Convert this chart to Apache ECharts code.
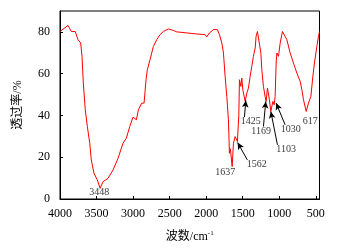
<!DOCTYPE html>
<html>
<head>
<meta charset="utf-8">
<script src="https://cdn.jsdelivr.net/npm/echarts@6/dist/echarts.min.js"></script>
<style>
    html, body {margin: 0; padding: 0; background: #fff;}
    #chart {width: 337px; height: 250px;}
</style>
</head>
<body>
<div id="chart"></div>
<script>
// wavenumber (cm-1) and transmittance (%)
const wavenumber = [
    4000, 3890, 3845, 3791, 3754, 3717, 3699, 3681, 3654, 3626, 3593, 3572, 3535, 3489, 3452,
    3411, 3343, 3274, 3206, 3138, 3092, 3046, 3001, 2955, 2928, 2882, 2850, 2823, 2805, 2768,
    2723, 2676, 2631, 2586, 2517, 2449, 2402, 2265, 2129, 2015, 1992, 1956, 1901, 1847, 1819,
    1786, 1764, 1741, 1718, 1696, 1682, 1669, 1645, 1627, 1604, 1581, 1573, 1554, 1545, 1526,
    1513, 1499, 1467, 1444, 1422, 1399, 1376, 1354, 1330, 1317, 1299, 1272, 1252, 1239, 1217,
    1194, 1180, 1162, 1148, 1135, 1116, 1088, 1070, 1057, 1043, 1033, 1011, 988, 957, 933,
    897, 851, 806, 760, 714, 691, 669, 632, 601, 568, 541, 519, 486, 464, 450,
]
const transmittance = [
    80.2, 83.1, 80.2, 80.2, 76.3, 74.7, 68.3, 55.5, 42.7, 34.7, 26.7, 18.7, 12.3, 9.1, 5.1,
    8.3, 9.9, 13.9, 19.5, 26.7, 29.1, 34.7, 39.2, 37.9, 42.7, 45.9, 45.9, 57.1, 61.9, 66.7,
    73.0, 76.3, 78.7, 80.2, 81.4, 80.7, 80.0, 79.5, 79.0, 78.7, 77.6, 79.5, 81.1, 81.1, 78.7,
    74.7, 69.9, 58.7, 49.1, 37.9, 21.9, 24.0, 15.5, 26.7, 29.9, 29.1, 27.5, 40.0, 57.1, 53.9,
    57.9, 52.3, 46.7, 50.7, 53.1, 58.7, 63.5, 68.3, 72.3, 77.9, 80.2, 79.5, 69.9, 61.9, 53.9,
    49.1, 46.7, 53.1, 52.3, 47.5, 41.9, 46.7, 45.1, 49.1, 65.1, 69.9, 68.3, 74.7, 80.2, 80.2,
    76.3, 69.9, 65.1, 60.3, 56.3, 52.3, 47.5, 41.9, 45.9, 49.1, 58.7, 65.1, 73.0, 77.9, 80.2,
]

// peak labels: text, label anchor (x, y)
const peakNames = ['3448', '1637', '1562', '1425', '1169', '1103', '1030', '617']
const peakLabelX = [3462, 1741, 1307, 1390, 1248, 906, 842, 578]
const peakLabelY = [3.0, 12.8, 16.8, 37.1, 32.3, 23.8, 33.1, 37.4]

// arrows: from (x0, y0) to tip (x1, y1)
const arrowFromX = [1437, 1477, 1217, 1025, 920]
const arrowFromY = [18.7, 39.2, 34.7, 25.9, 35.5]
const arrowToX = [1570, 1458, 1185, 1116, 1043]
const arrowToY = [27.0, 47.2, 46.7, 41.9, 45.9]

const xTicks = [4000, 3500, 3000, 2500, 2000, 1500, 1000, 500]
const yTicks = [0, 20, 40, 60, 80]

const serif = "'Liberation Serif', 'Noto Sans CJK SC', serif"

const myChart = echarts.init(document.getElementById('chart'), null, {renderer: 'canvas'})
myChart.setOption({
    animation: false,
    backgroundColor: '#fff',
    grid: {
        show: true,
        left: 60,
        top: 11,
        right: 17.5,
        bottom: 51,
        borderColor: '#000',
        borderWidth: 1,
        backgroundColor: 'transparent',
    },
    xAxis: {
        type: 'value',
        inverse: true,
        min: 450,
        max: 4000,
        name: '{a|波数/cm}{b|-1}',
        nameLocation: 'middle',
        nameGap: 31,
        nameTextStyle: {
            rich: {
                a: {fontFamily: serif, fontSize: 12, color: '#000'},
                b: {fontFamily: serif, fontSize: 7, color: '#000', verticalAlign: 'top', padding: [0, 0, 6, 0]},
            },
        },
        axisLine: {onZero: false, lineStyle: {color: '#000', width: 1}},
        axisTick: {inside: true, length: 3, customValues: xTicks, lineStyle: {color: '#000'}},
        axisLabel: {
            customValues: xTicks,
            formatter: (v) => String(v),
            color: '#000',
            fontFamily: serif,
            fontSize: 12,
            margin: 9,
        },
        splitLine: {show: false},
    },
    yAxis: {
        type: 'value',
        min: 0,
        max: 90,
        name: '透过率/%',
        nameLocation: 'middle',
        nameRotate: 90,
        nameGap: 36,
        nameTextStyle: {fontFamily: serif, fontSize: 12, color: '#000'},
        axisLine: {show: true, lineStyle: {color: '#000', width: 1}},
        axisTick: {show: true, inside: true, length: 3, customValues: yTicks, lineStyle: {color: '#000'}},
        axisLabel: {
            customValues: yTicks,
            formatter: (v) => String(v),
            color: '#000',
            fontFamily: serif,
            fontSize: 12,
            margin: 10,
        },
        splitLine: {show: false},
    },
    series: [
        {
            type: 'line',
            data: wavenumber.map((w, i) => [w, transmittance[i]]),
            showSymbol: false,
            lineStyle: {color: '#ff0000', width: 1},
            z: 3,
            markLine: {
                silent: true,
                symbol: ['none', 'arrow'],
                symbolSize: [5, 7],
                lineStyle: {color: '#000', width: 1, type: 'solid'},
                label: {show: false},
                data: arrowFromX.map((x, i) => [
                    {coord: [x, arrowFromY[i]]},
                    {coord: [arrowToX[i], arrowToY[i]]},
                ]),
            },
        },
        {
            type: 'scatter',
            symbolSize: 0,
            data: peakNames.map((name, i) => ({value: [peakLabelX[i], peakLabelY[i]], name})),
            label: {
                show: true,
                position: 'inside',
                formatter: (p) => p.name,
                color: '#000',
                fontFamily: serif,
                fontSize: 10,
            },
            z: 4,
        },
    ],
})
</script>
</body>
</html>
